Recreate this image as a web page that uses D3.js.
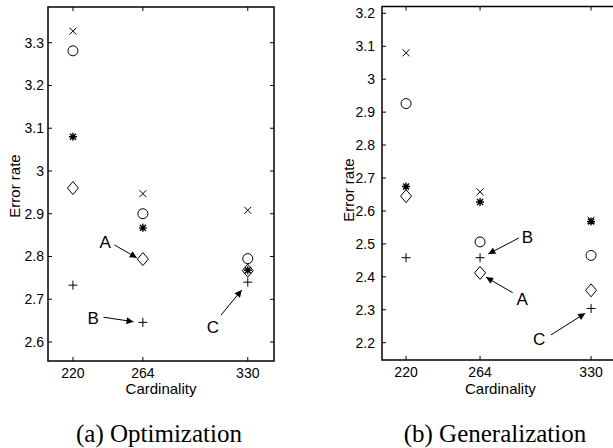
<!DOCTYPE html>
<html>
<head>
<meta charset="utf-8">
<script src="https://cdn.jsdelivr.net/npm/d3@7"></script>
<style>
  body { margin: 0; background: #fff; }
  svg { display: block; }
  text { font-family: "Liberation Sans", Arial, Helvetica, sans-serif; fill: #000; }
</style>
</head>
<body>
<svg id="chart"></svg>
<script>
const W = 613, H = 448;

const cardinalities = [220, 264, 330];
const markerKinds = ["cross", "circle", "star", "diamond", "plus"];

// (a) Optimization
const optCross   = [3.327, 2.947, 2.908];
const optCircle  = [3.281, 2.900, 2.795];
const optStar    = [3.080, 2.867, 2.768];
const optDiamond = [2.960, 2.794, 2.767];
const optPlus    = [2.733, 2.646, 2.740];
const optTicks   = [2.6, 2.7, 2.8, 2.9, 3.0, 3.1, 3.2, 3.3];

// (b) Generalization
const genCross   = [3.080, 2.658, 2.572];
const genCircle  = [2.926, 2.506, 2.465];
const genStar    = [2.674, 2.627, 2.568];
const genDiamond = [2.645, 2.412, 2.359];
const genPlus    = [2.458, 2.458, 2.304];
const genTicks   = [2.2, 2.3, 2.4, 2.5, 2.6, 2.7, 2.8, 2.9, 3.0, 3.1, 3.2];

// annotations: label, text position, arrow start, arrow tip (data units)
const optNotes = [
  { label: "A", tx: 240.3, ty: 2.8206, x1: 246.1, y1: 2.827, x2: 260.2, y2: 2.797 },
  { label: "B", tx: 232.8, ty: 2.6414, x1: 239.2, y1: 2.658, x2: 258.1, y2: 2.6475 },
  { label: "C", tx: 308.1, ty: 2.620,  x1: 313.2, y1: 2.6632, x2: 326.2, y2: 2.7216 }
];
const genNotes = [
  { label: "B", tx: 292.1, ty: 2.5036, x1: 287.1, y1: 2.518, x2: 268.9, y2: 2.4694 },
  { label: "A", tx: 289.0, ty: 2.3144, x1: 283.4, y1: 2.3518, x2: 267.6, y2: 2.3986 },
  { label: "C", tx: 299.1, ty: 2.193,  x1: 306.1, y1: 2.2234, x2: 326.5, y2: 2.2893 }
];

const svg = d3.select("#chart").attr("width", W).attr("height", H);

const defs = svg.append("defs");
defs.append("marker")
    .attr("id", "head")
    .attr("viewBox", "0 0 10 10")
    .attr("refX", 10).attr("refY", 5)
    .attr("markerWidth", 8).attr("markerHeight", 7)
    .attr("markerUnits", "userSpaceOnUse")
    .attr("orient", "auto")
    .append("path")
    .attr("d", "M0,0 L10,5 L0,10 Z")
    .attr("fill", "#000");

function drawMarker(g, kind, cx, cy) {
  const s = g.append("g").attr("transform", `translate(${cx},${cy})`)
      .attr("fill", "none").attr("stroke", "#000").attr("stroke-width", 1);
  if (kind === "circle") {
    s.append("circle").attr("r", 5);
  } else if (kind === "cross") {
    s.append("path").attr("d", "M-3.5,-3.5L3.5,3.5M-3.5,3.5L3.5,-3.5");
  } else if (kind === "plus") {
    s.append("path").attr("d", "M-4.5,0H4.5M0,-4.5V4.5");
  } else if (kind === "star") {
    s.attr("stroke-width", 1.4);
    s.append("path").attr("d", "M-4,0H4M0,-4V4M-3,-3L3,3M-3,3L3,-3");
  } else if (kind === "diamond") {
    s.append("path").attr("d", "M0,-6.5L5.5,0L0,6.5L-5.5,0Z");
  }
}

function drawPanel(p) {
  const x = d3.scaleLinear().domain(p.xDomain).range(p.xRange);
  const y = d3.scaleLinear().domain(p.yDomain).range(p.yRange);
  const g = svg.append("g");
  const [left, right] = p.xRange;
  const [bottom, top] = p.yRange;

  // inward ticks on all sides
  const ticks = g.append("g").attr("stroke", "#000").attr("stroke-width", 1);
  cardinalities.forEach(c => {
    ticks.append("line").attr("x1", x(c)).attr("x2", x(c)).attr("y1", bottom).attr("y2", bottom - 4);
    ticks.append("line").attr("x1", x(c)).attr("x2", x(c)).attr("y1", top).attr("y2", top + 4);
  });
  p.yTicks.forEach(t => {
    ticks.append("line").attr("x1", left).attr("x2", left + 4).attr("y1", y(t)).attr("y2", y(t));
    ticks.append("line").attr("x1", right).attr("x2", right - 4).attr("y1", y(t)).attr("y2", y(t));
  });

  g.append("rect")
      .attr("x", left).attr("y", top)
      .attr("width", right - left).attr("height", bottom - top)
      .attr("fill", "none").attr("stroke", "#000").attr("stroke-width", 1.5);

  g.selectAll(".ylab").data(p.yTicks).enter().append("text")
      .attr("x", left - p.yLabelGap)
      .attr("y", d => y(d))
      .attr("dy", "0.35em")
      .attr("text-anchor", "end")
      .style("font-size", "14px")
      .text(d => d3.format("")(+d.toFixed(1)));

  g.selectAll(".xlab").data(cardinalities).enter().append("text")
      .attr("x", d => x(d))
      .attr("y", bottom + 17)
      .attr("text-anchor", "middle")
      .style("font-size", "14px")
      .text(d => d);

  g.append("text")
      .attr("x", (left + p.plotRightFull) / 2)
      .attr("y", 394)
      .attr("text-anchor", "middle")
      .style("font-size", "15px")
      .text("Cardinality");

  g.append("text")
      .attr("transform", `translate(${p.yTitleX},${p.yTitleY}) rotate(-90)`)
      .attr("text-anchor", "middle")
      .style("font-size", "15px")
      .text("Error rate");

  p.series.forEach((vals, i) => {
    vals.forEach((v, j) => drawMarker(g, markerKinds[i], x(cardinalities[j]), y(v)));
  });

  p.notes.forEach(n => {
    g.append("line")
        .attr("x1", x(n.x1)).attr("y1", y(n.y1))
        .attr("x2", x(n.x2)).attr("y2", y(n.y2))
        .attr("stroke", "#000").attr("stroke-width", 1)
        .attr("marker-end", "url(#head)");
    g.append("text")
        .attr("x", x(n.tx)).attr("y", y(n.ty))
        .attr("text-anchor", "middle")
        .style("font-size", "17px")
        .text(n.label);
  });

  svg.append("text")
      .attr("x", p.captionX)
      .attr("y", 441.5)
      .attr("text-anchor", "middle")
      .style("font-family", "'Liberation Serif', 'Times New Roman', serif")
      .style("font-size", "25px")
      .text(p.caption);
}

drawPanel({
  xDomain: [204.3, 346.5], xRange: [48, 274],
  yDomain: [2.5556, 3.3835], yRange: [361, 7],
  yTicks: optTicks, yLabelGap: 4,
  plotRightFull: 274,
  yTitleX: 19.5, yTitleY: 186,
  series: [optCross, optCircle, optStar, optDiamond, optPlus],
  notes: optNotes,
  caption: "(a) Optimization", captionX: 159
});

drawPanel({
  xDomain: [205.7, 346.5], xRange: [382, 618.8],
  yDomain: [2.1475, 3.2206], yRange: [360, 6.5],
  yTicks: genTicks, yLabelGap: 7,
  plotRightFull: 618.8,
  yTitleX: 354, yTitleY: 190,
  series: [genCross, genCircle, genStar, genDiamond, genPlus],
  notes: genNotes,
  caption: "(b) Generalization", captionX: 495
});
</script>
</body>
</html>
